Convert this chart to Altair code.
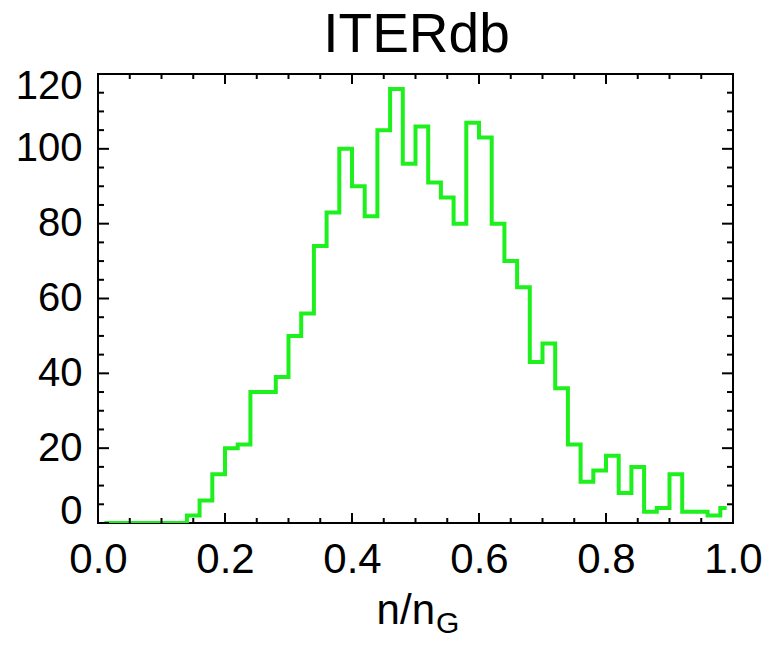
import altair as alt
import pandas as pd

# Bin centres of n/nG histogram (bin width 0.02)
ratio = [0.01, 0.03, 0.05, 0.07, 0.09, 0.11, 0.13, 0.15, 0.17, 0.19,
         0.21, 0.23, 0.25, 0.27, 0.29, 0.31, 0.33, 0.35, 0.37, 0.39,
         0.41, 0.43, 0.45, 0.47, 0.49, 0.51, 0.53, 0.55, 0.57, 0.59,
         0.61, 0.63, 0.65, 0.67, 0.69, 0.71, 0.73, 0.75, 0.77, 0.79,
         0.81, 0.83, 0.85, 0.87, 0.89, 0.91, 0.93, 0.95, 0.97, 0.99]
counts = [0, 0, 0, 0, 0, 0, 0, 2, 6, 13,
          20, 21, 35, 35, 39, 50, 56, 74, 83, 100,
          90, 82, 105, 116, 96, 106, 91, 87, 80, 107,
          103, 80, 70, 63, 43, 48, 36, 21, 11, 14,
          18, 8, 15, 3, 4, 13, 3, 3, 2, 4]

x_major = [0.0, 0.2, 0.4, 0.6, 0.8, 1.0]
x_minor = [0.05, 0.1, 0.15, 0.25, 0.3, 0.35, 0.45, 0.5, 0.55, 0.65, 0.7, 0.75, 0.85, 0.9, 0.95]
y_major = [0, 20, 40, 60, 80, 100, 120]
y_minor = [5, 10, 15, 25, 30, 35, 45, 50, 55, 65, 70, 75, 85, 90, 95, 105, 110, 115]

W, H = 635, 449
FONT = "Liberation Sans"
GREEN = "#1ef01e"

df = pd.DataFrame({"ratio": ratio, "count": counts})
xs = alt.Scale(domain=[0, 1], nice=False, zero=False)
ys = alt.Scale(domain=[0, 120], nice=False)

hist = alt.Chart(df).mark_line(interpolate="step", color=GREEN, strokeWidth=4, clip=True).encode(
    x=alt.X("ratio:Q", scale=xs, axis=alt.Axis(
        values=x_major, format=".1f", title=None, domain=False, ticks=False, grid=False,
        labelFontSize=42, labelFont=FONT, labelColor="black", labelPadding=16,
        labelFlush=False, labelOverlap=False)),
    y=alt.Y("count:Q", scale=ys, axis=alt.Axis(
        values=y_major, title=None, domain=False, ticks=False, grid=False,
        labelFontSize=40, labelFont=FONT, labelColor="black", labelPadding=16,
        labelFlush=True, labelFlushOffset=8, labelOverlap=False)),
)

def yticks(vals, length):
    d = pd.DataFrame({"v": vals})
    left = alt.Chart(d).mark_rule(color="black", strokeWidth=2).encode(
        y=alt.Y("v:Q", scale=ys), x=alt.value(0), x2=alt.value(length))
    right = alt.Chart(d).mark_rule(color="black", strokeWidth=2).encode(
        y=alt.Y("v:Q", scale=ys), x=alt.value(W - length), x2=alt.value(W))
    return left + right

def xticks(vals, length):
    d = pd.DataFrame({"v": vals})
    bottom = alt.Chart(d).mark_rule(color="black", strokeWidth=2).encode(
        x=alt.X("v:Q", scale=xs), y=alt.value(H - length), y2=alt.value(H))
    top = alt.Chart(d).mark_rule(color="black", strokeWidth=2).encode(
        x=alt.X("v:Q", scale=xs), y=alt.value(0), y2=alt.value(length))
    return bottom + top

text_df = pd.DataFrame({"title": ["ITERdb"], "t": ["n/n"], "s": ["G"]})
title_mark = alt.Chart(text_df).mark_text(
    font=FONT, fontSize=55, align="center", baseline="alphabetic", color="black"
).encode(text="title:N", x=alt.value(W / 2 + 1), y=alt.value(-22))
xt_main = alt.Chart(text_df).mark_text(
    font=FONT, fontSize=42, align="right", baseline="alphabetic", color="black"
).encode(text="t:N", x=alt.value(337), y=alt.value(H + 101))
xt_sub = alt.Chart(text_df).mark_text(
    font=FONT, fontSize=30, align="left", baseline="alphabetic", color="black"
).encode(text="s:N", x=alt.value(338), y=alt.value(H + 110))

chart = alt.layer(
    hist,
    yticks(y_major, 11), yticks(y_minor, 6),
    xticks(x_major, 10), xticks(x_minor, 5),
    title_mark, xt_main, xt_sub,
).properties(
    width=W, height=H,
    autosize=alt.AutoSizeParams(type="none"),
    padding={"left": 90, "top": 66, "right": 30, "bottom": 112},
).configure_view(stroke="black", strokeWidth=2)

chart.save("out.html", embed_options={"renderer": "svg", "actions": False})
